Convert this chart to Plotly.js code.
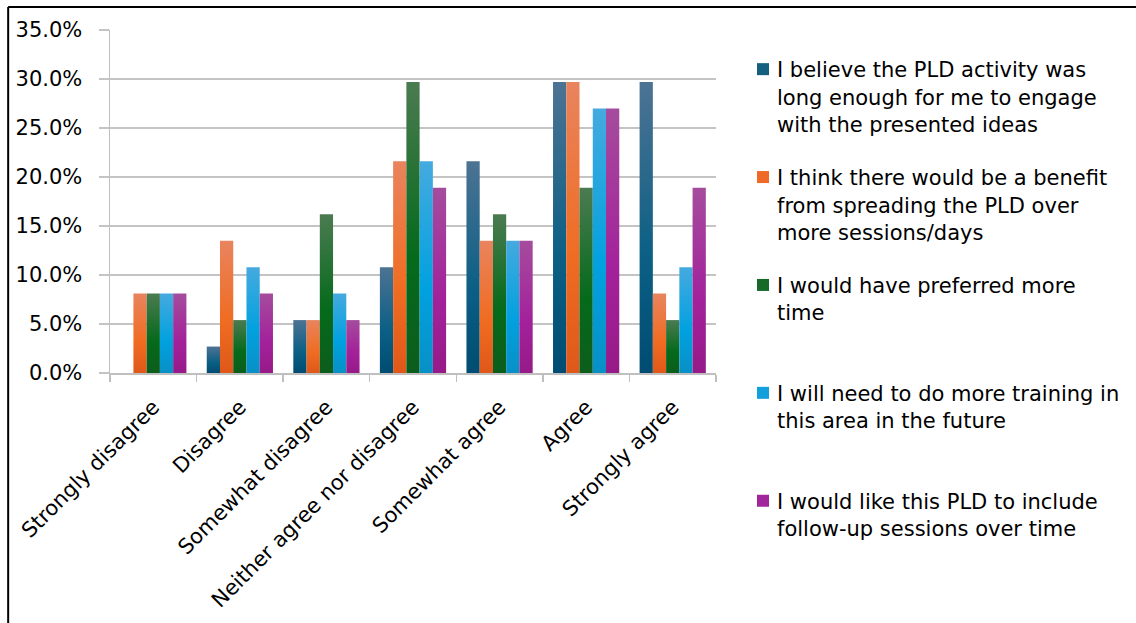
<!DOCTYPE html>
<html>
<head>
<meta charset="utf-8">
<script src="https://cdn.plot.ly/plotly-3.0.1.min.js"></script>
<style>
  html, body { margin: 0; padding: 0; background: #ffffff; }
  #chart { width: 1136px; height: 623px; }
</style>
</head>
<body>
<div id="chart"></div>
<script>
// Survey response categories (x axis)
const categories = [
  'Strongly disagree', 'Disagree', 'Somewhat disagree',
  'Neither agree nor disagree', 'Somewhat agree', 'Agree', 'Strongly agree'
];

// Statement labels shown in the legend
const seriesNames = [
  'I believe the PLD activity was<br>long enough for me to engage<br>with the presented ideas',
  'I think there would be a benefit<br>from spreading the PLD over<br>more sessions/days',
  'I would have preferred more<br>time<br> ',
  'I will need to do more training in<br>this area in the future<br> ',
  'I would like this PLD to include<br>follow-up sessions over time<br> '
];

// Percentage of respondents per category, one array per statement
const longEnough   = [0.0, 2.7, 5.4, 10.8, 21.6, 29.7, 29.7];
const spreadOver   = [8.1, 13.5, 5.4, 21.6, 13.5, 29.7, 8.1];
const moreTime     = [8.1, 5.4, 16.2, 29.7, 16.2, 18.9, 5.4];
const moreTraining = [8.1, 10.8, 8.1, 21.6, 13.5, 27.0, 10.8];
const followUp     = [8.1, 8.1, 5.4, 18.9, 13.5, 27.0, 18.9];

const seriesValues = [longEnough, spreadOver, moreTime, moreTraining, followUp];

// y axis ticks and their labels
const yTickVals = [0, 5, 10, 15, 20, 25, 30, 35];
const yTickText = ['0.0%', '5.0%', '10.0%', '15.0%', '20.0%', '25.0%', '30.0%', '35.0%'];

// Solid colours (legend swatches) and vertical gradient stops for the bars
const solidColors = ['#15607f', '#ee6a26', '#17692a', '#12a0dd', '#a1269b'];
const gradientStops = [
  ['#4d7393', '#0b5f85', '#004c72'],
  ['#e9845e', '#f06c22', '#df5819'],
  ['#4b7b51', '#056a1b', '#0c5d1c'],
  ['#45aadf', '#01a1df', '#0890c6'],
  ['#a54c9d', '#a3229b', '#961a88']
];

const FONT = '"DejaVu Sans", Verdana, sans-serif';
const W = 1136, H = 623;
const M = { l: 110, r: 419, t: 30, b: 250 };
const plotW = W - M.l - M.r, plotH = H - M.t - M.b;
const px2x = p => (p - M.l) / plotW;
const px2y = p => (H - M.b - p) / plotH;

const traces = seriesValues.map((vals, i) => ({
  type: 'bar',
  x: categories,
  y: vals,
  name: seriesNames[i],
  legendgroup: 'g' + i,
  marker: { color: solidColors[i], line: { width: 0 } },
  hoverinfo: 'skip'
}));

const layout = {
  width: W, height: H,
  margin: M,
  paper_bgcolor: '#ffffff',
  plot_bgcolor: '#ffffff',
  barmode: 'group',
  bargap: 0.235,
  bargroupgap: 0,
  font: { family: FONT, size: 21, color: '#000000' },
  xaxis: {
    type: 'category',
    showline: true, linecolor: '#bfbfbf', linewidth: 1.5,
    ticks: 'outside', tickson: 'boundaries', ticklen: 7,
    tickcolor: '#bfbfbf', tickwidth: 1.5,
    tickangle: -45,
    tickfont: { family: FONT, size: 21, color: '#000000' },
    ticklabelstandoff: 12,
    showgrid: false
  },
  yaxis: {
    range: [0, 35],
    tickmode: 'array',
    tickvals: yTickVals,
    ticktext: yTickText,
    showgrid: true, gridcolor: '#c4c4c4', gridwidth: 1.5,
    showline: true, linecolor: '#bfbfbf', linewidth: 1.5,
    ticks: 'outside', ticklen: 10, tickcolor: '#c4c4c4', tickwidth: 1.5,
    tickfont: { family: FONT, size: 21, color: '#000000' },
    ticklabelstandoff: 12,
    zeroline: false
  },
  legend: {
    x: px2x(737), xanchor: 'left',
    y: px2y(49), yanchor: 'top',
    valign: 'top',
    tracegroupgap: 23,
    maxheight: 600,
    font: { family: FONT, size: 21, color: '#000000' },
    bgcolor: 'rgba(0,0,0,0)',
    itemclick: false, itemdoubleclick: false
  },
  showlegend: true,
  shapes: [
    // frame: left edge and top edge
    { type: 'line', xref: 'paper', yref: 'paper',
      x0: px2x(8), x1: px2x(8), y0: px2y(H + 5), y1: px2y(7),
      line: { color: '#000000', width: 2 } },
    { type: 'line', xref: 'paper', yref: 'paper',
      x0: px2x(8), x1: px2x(W + 5), y0: px2y(7), y1: px2y(7),
      line: { color: '#000000', width: 2 } }
  ]
};

const gd = document.getElementById('chart');
Plotly.newPlot(gd, traces, layout, { staticPlot: true, displayModeBar: false }).then(() => {
  // Add vertical gradients to each bar series
  const svgNS = 'http://www.w3.org/2000/svg';
  const defs = gd.querySelector('.main-svg defs');
  gradientStops.forEach((stops, i) => {
    const lg = document.createElementNS(svgNS, 'linearGradient');
    lg.setAttribute('id', 'barGrad' + i);
    lg.setAttribute('x1', '0'); lg.setAttribute('y1', '0');
    lg.setAttribute('x2', '0'); lg.setAttribute('y2', '1');
    [[0, stops[0]], [0.6, stops[1]], [1, stops[2]]].forEach(([off, col]) => {
      const s = document.createElementNS(svgNS, 'stop');
      s.setAttribute('offset', off);
      s.setAttribute('stop-color', col);
      lg.appendChild(s);
    });
    defs.appendChild(lg);
  });
  gd.querySelectorAll('.barlayer .trace').forEach((tr, i) => {
    tr.querySelectorAll('.point path').forEach(p => {
      p.style.fill = 'url(#barGrad' + i + ')';
    });
  });
  // Nudge the legend swatches closer to their labels
  gd.querySelectorAll('.legend .legendpoints').forEach(g => {
    g.setAttribute('transform', 'translate(6,0)');
  });
});
</script>
</body>
</html>
